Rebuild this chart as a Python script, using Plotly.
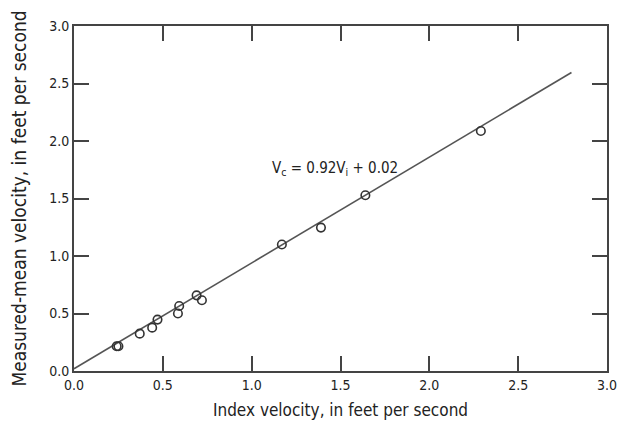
import plotly.graph_objects as go

# Index velocity vs. measured-mean velocity observations (ft/s)
index_velocity = [0.24, 0.25, 0.37, 0.44, 0.47, 0.585, 0.592, 0.69, 0.72, 1.17, 1.39, 1.64, 2.29]
mean_velocity = [0.215, 0.215, 0.325, 0.377, 0.447, 0.50, 0.565, 0.658, 0.615, 1.10, 1.247, 1.528, 2.087]

# Rating: Vc = 0.92 Vi + 0.02
slope = 0.92
intercept = 0.02
fit_x = [0.0, 2.8]
fit_y = [slope * v + intercept for v in fit_x]

tick_vals = [0.0, 0.5, 1.0, 1.5, 2.0, 2.5, 3.0]
tick_text = ["0.0", "0.5", "1.0", "1.5", "2.0", "2.5", "3.0"]

narrow = "DejaVu Sans Condensed, Liberation Sans Narrow, sans-serif"
axis_col = "#444444"

fig = go.Figure()
fig.add_trace(go.Scatter(
    x=fit_x, y=fit_y, mode="lines",
    line=dict(color="#555555", width=1.6),
    showlegend=False, hoverinfo="skip",
))
fig.add_trace(go.Scatter(
    x=index_velocity, y=mean_velocity, mode="markers",
    marker=dict(symbol="circle-open", size=8.5, color="#333333", line=dict(width=1.6)),
    showlegend=False,
))

fig.add_annotation(
    x=1.47, y=1.76, xref="x", yref="y", showarrow=False,
    text="V<sub>c</sub> = 0.92V<sub>i</sub> + 0.02",
    font=dict(family=narrow, size=15, color="#222222"),
)

axis_common = dict(
    tickvals=tick_vals, ticktext=tick_text,
    ticks="inside", ticklen=15, tickwidth=1.8, tickcolor=axis_col,
    showline=True, linecolor=axis_col, linewidth=1.8, mirror="ticks",
    showgrid=False, zeroline=False, automargin=False,
    tickfont=dict(family=narrow, size=14, color="#222222"),
    range=[0, 3],
)

fig.update_layout(
    width=618, height=421,
    margin=dict(l=74, r=11, t=26, b=50),
    paper_bgcolor="white", plot_bgcolor="white",
    xaxis=dict(**axis_common,
               title=dict(text="Index velocity, in feet per second",
                          font=dict(family=narrow, size=17, color="#222222"),
                          standoff=12)),
    yaxis=dict(**axis_common,
               title=dict(text="Measured-mean velocity, in feet per second",
                          font=dict(family=narrow, size=19, color="#222222"),
                          standoff=18)),
)

fig.write_html("out.html")
